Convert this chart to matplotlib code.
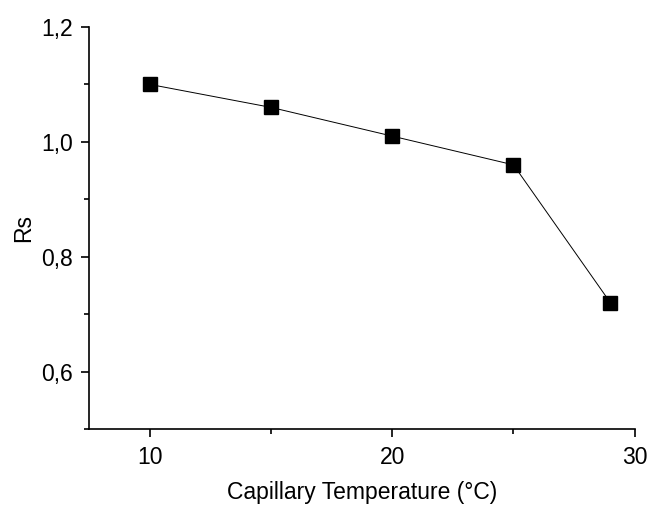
import matplotlib
matplotlib.use("Agg")
import matplotlib.pyplot as plt
from matplotlib.ticker import MultipleLocator, FuncFormatter

# capillary temperature vs resolution
temperature = [10, 15, 20, 25, 29]
rs = [1.10, 1.06, 1.01, 0.96, 0.72]

plt.rcParams['font.family'] = ['Liberation Sans', 'DejaVu Sans']

fig = plt.figure(figsize=(6.51, 5.08), dpi=100)
ax = fig.add_axes([0.137, 0.155, 0.838, 0.792])

ax.plot(temperature, rs, color='black', linewidth=0.7, marker='s',
        markersize=9.5, markerfacecolor='black', markeredgecolor='black')

ax.set_xlim(7.5, 30)
ax.set_ylim(0.5, 1.2)
ax.xaxis.set_major_locator(MultipleLocator(10))
ax.xaxis.set_minor_locator(MultipleLocator(5))
ax.yaxis.set_major_locator(MultipleLocator(0.2))
ax.yaxis.set_minor_locator(MultipleLocator(0.1))
ax.set_yticks([0.6, 0.8, 1.0, 1.2])
ax.yaxis.set_major_formatter(FuncFormatter(lambda v, p: f"{v:.1f}".replace('.', ',')))

ax.spines['top'].set_visible(False)
ax.spines['right'].set_visible(False)
ax.spines['left'].set_linewidth(1.2)
ax.spines['bottom'].set_linewidth(1.2)
ax.tick_params(which='major', direction='out', length=6, width=1.2, labelsize=16.5, pad=6)
ax.tick_params(which='minor', direction='out', length=3.5, width=1.2)

ax.set_xlabel('Capillary Temperature (°C)', fontsize=16.5, labelpad=9)
ax.set_ylabel('Rs', fontsize=16.5, labelpad=4)

fig.savefig('out.png', dpi=100)
